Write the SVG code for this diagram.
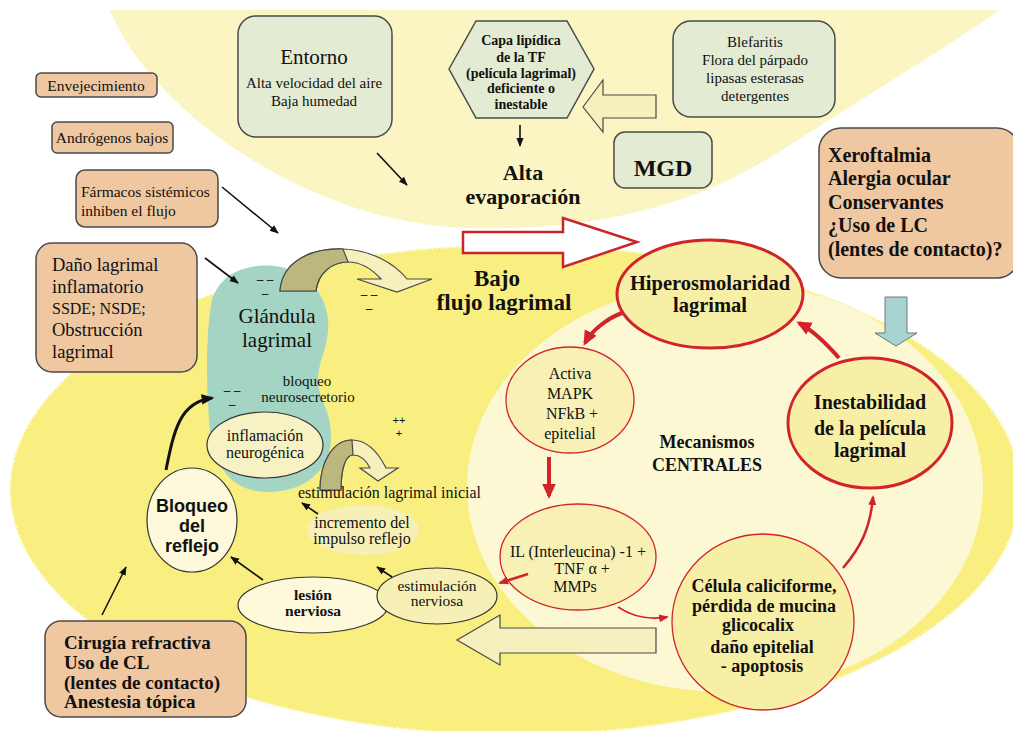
<svg xmlns="http://www.w3.org/2000/svg" width="1013" height="731" viewBox="0 0 1013 731">
<style>
.s{font-family:"Liberation Serif","Times New Roman",serif;fill:#111}
.ss{font-family:"Liberation Sans",Arial,sans-serif;fill:#111}
.b{font-weight:bold}
.m{text-anchor:middle}
.tan{fill:#efc7a0;stroke:#4a4a4a;stroke-width:1.5}
.grn{fill:#e3ecd2;stroke:#4a4a4a;stroke-width:1.5}
.blk{stroke:#111;stroke-width:1.6;fill:none}
.red{stroke:#d2232a;fill:none}
.pale{fill:#f5f0bd;stroke:#4a4a4a;stroke-width:1.2}
</style>
<defs>
<marker id="ab" viewBox="0 0 10 10" refX="9" refY="5" markerWidth="9" markerHeight="9" markerUnits="userSpaceOnUse" orient="auto"><path d="M0,1 L10,5 L0,9 Z" fill="#111"/></marker>
<marker id="ab2" viewBox="0 0 10 10" refX="8" refY="5" markerWidth="13" markerHeight="13" markerUnits="userSpaceOnUse" orient="auto"><path d="M0,1 L10,5 L0,9 Z" fill="#111"/></marker>
<marker id="ar" viewBox="0 0 10 10" refX="8" refY="5" markerWidth="15" markerHeight="15" markerUnits="userSpaceOnUse" orient="auto"><path d="M0,0.5 L10,5 L0,9.5 Z" fill="#d2232a"/></marker>
<marker id="ar2" viewBox="0 0 10 10" refX="8" refY="5" markerWidth="10" markerHeight="10" markerUnits="userSpaceOnUse" orient="auto"><path d="M0,1 L10,5 L0,9 Z" fill="#d2232a"/></marker>
</defs>

<g id="background">
<path d="M110,10 C150,110 310,225 470,228 C600,231 700,205 790,145 C860,100 950,45 1000,10 Z" fill="#faf5c2"/>
<ellipse cx="515" cy="490" rx="505" ry="245" fill="#f9ee80" stroke="#fffbe0" stroke-width="2.5" stroke-dasharray="2 2.5"/>
<ellipse cx="725" cy="487" rx="258" ry="205" fill="#fdf8d4"/>
</g>

<g id="envejecimiento"><rect class="tan" x="36" y="73" width="121" height="24" rx="5"/><text class="s m" x="96" y="91" font-size="15.5">Envejecimiento</text></g>
<g id="androgenos"><rect class="tan" x="52" y="122" width="121" height="31" rx="5"/><text class="s m" x="112" y="143" font-size="15.5">Andrógenos bajos</text></g>
<g id="farmacos"><rect class="tan" x="76" y="170" width="142" height="57" rx="9"/><text class="s" x="81" y="197" font-size="15.5">Fármacos sistémicos</text><text class="s" x="81" y="216" font-size="15.5">inhiben el flujo</text></g>
<g id="dano"><rect class="tan" x="36" y="243" width="161" height="129" rx="16"/>
<text class="s" x="52" y="271" font-size="18.5">Daño lagrimal</text>
<text class="s" x="52" y="293" font-size="18.5">inflamatorio</text>
<text class="s" x="52" y="314" font-size="16">SSDE; NSDE;</text>
<text class="s" x="52" y="336" font-size="18.5">Obstrucción</text>
<text class="s" x="52" y="358" font-size="18.5">lagrimal</text></g>

<g id="entorno"><rect class="grn" x="238" y="16" width="154" height="121" rx="18"/>
<text class="s m" x="314" y="64" font-size="21">Entorno</text>
<text class="s m" x="314" y="88" font-size="15">Alta velocidad del aire</text>
<text class="s m" x="314" y="106" font-size="15">Baja humedad</text></g>

<g id="capa"><polygon class="grn" points="449,69 476,21 567,21 594,69 567,118 476,118"/>
<text class="s b m" x="521" y="45" font-size="14">Capa lipídica</text>
<text class="s b m" x="521" y="62" font-size="14">de la TF</text>
<text class="s b m" x="521" y="78" font-size="14">(película lagrimal)</text>
<text class="s b m" x="521" y="93" font-size="14">deficiente o</text>
<text class="s b m" x="521" y="109" font-size="14">inestable</text></g>

<g id="blefaritis"><rect class="grn" x="673" y="21" width="162" height="96" rx="18"/>
<text class="s m" x="755" y="47" font-size="15">Blefaritis</text>
<text class="s m" x="755" y="65" font-size="15">Flora del párpado</text>
<text class="s m" x="755" y="83" font-size="15">lipasas esterasas</text>
<text class="s m" x="755" y="101" font-size="15">detergentes</text></g>

<g id="mgd"><rect class="grn" x="614" y="132" width="98" height="56" rx="11"/><text class="s b m" x="663" y="176" font-size="24">MGD</text></g>

<g id="alta-evaporacion"><text class="s b m" x="523" y="180" font-size="22">Alta</text><text class="s b m" x="523" y="204" font-size="22">evaporación</text></g>

<g id="xeroftalmia"><rect class="tan" x="819" y="128" width="200" height="150" rx="22"/>
<text class="s b" x="828" y="162" font-size="20">Xeroftalmia</text>
<text class="s b" x="828" y="185" font-size="20">Alergia ocular</text>
<text class="s b" x="828" y="209" font-size="20">Conservantes</text>
<text class="s b" x="828" y="232" font-size="20">¿Uso de LC</text>
<text class="s b" x="828" y="256" font-size="20">(lentes de contacto)?</text></g>

<g id="glandula">
<path d="M258,266 C295,262 325,285 328,320 C330,345 318,360 318,380 C318,400 332,410 331,440 C330,470 305,492 268,492 C230,492 212,465 209,420 C206,380 206,330 212,300 C218,280 235,268 258,266 Z" fill="#a4d4c4"/>
<text class="s m" x="277" y="323" font-size="21">Glándula</text>
<text class="s m" x="277" y="347" font-size="21">lagrimal</text>
</g>

<g id="marks" class="ss" font-size="12">
<text class="m" x="265" y="284">– –</text><text class="m" x="265" y="298">–</text>
<text class="m" x="369" y="299">– –</text><text class="m" x="369" y="313">–</text>
<text class="m" x="232" y="395">– –</text><text class="m" x="232" y="409">–</text>
<text class="m" x="399" y="424" font-size="11">++</text><text class="m" x="399" y="437" font-size="11">+</text>
</g>

<g id="bloqueo-neurosecretorio"><text class="s m" x="307" y="386" font-size="15">bloqueo</text><text class="s m" x="308" y="402" font-size="15">neurosecretorio</text></g>

<g id="inflamacion"><ellipse cx="265" cy="445" rx="58" ry="33" fill="#f7f2c4" stroke="#333" stroke-width="1.2"/>
<text class="s m" x="265" y="441" font-size="16">inflamación</text><text class="s m" x="265" y="458" font-size="16">neurogénica</text></g>

<g id="arco-superior">
<path d="M280,291 C282,262 310,248 343,249 C372,250 395,264 407,279 L432,279 L397,292 L357,279 L381,279 C371,268 360,262 348,262 C332,262 318,273 316,291 Z" class="pale"/>
<path d="M280,291 C282,262 310,248 343,249 L348,262 C332,262 318,273 316,291 Z" fill="#bcb67f" stroke="#4a4a4a" stroke-width="1.2"/>
</g>
<g id="arco-inferior">
<path d="M320,490 C320,462 333,440 352,440 C368,440 379,454 386,468 L398,468 L378,481 L360,468 L370,468 C366,460 360,455 353,455 C345,455 341,470 341,490 Z" class="pale"/>
<path d="M320,490 C320,462 333,440 352,440 L353,455 C345,455 341,470 341,490 Z" fill="#bcb67f" stroke="#4a4a4a" stroke-width="1.2"/>
</g>

<g id="estimulacion-lagrimal"><text class="s" x="298" y="498" font-size="16">estimulación lagrimal inicial</text></g>

<g id="incremento"><ellipse cx="363" cy="530" rx="56" ry="25" fill="#f6f0b6"/>
<text class="s m" x="362" y="528" font-size="16">incremento del</text><text class="s m" x="362" y="544" font-size="16">impulso reflejo</text></g>

<g id="bloqueo-reflejo"><ellipse cx="192" cy="520" rx="45" ry="52" fill="#fdf9da" stroke="#333" stroke-width="1.2"/>
<text class="ss b m" x="192" y="512" font-size="18">Bloqueo</text>
<text class="ss b m" x="192" y="532" font-size="18">del</text>
<text class="ss b m" x="192" y="552" font-size="18">reflejo</text></g>

<g id="lesion"><ellipse cx="313" cy="605" rx="75" ry="28" fill="#fdf9da" stroke="#333" stroke-width="1.2"/>
<text class="s b m" x="313" y="600" font-size="15.5">lesión</text><text class="s b m" x="313" y="616" font-size="15.5">nerviosa</text></g>

<g id="estimulacion-nerviosa"><ellipse cx="437" cy="596" rx="60" ry="28" fill="#f6f0b6" stroke="#333" stroke-width="1.2"/>
<text class="s m" x="437" y="591" font-size="15.5">estimulación</text><text class="s m" x="437" y="606" font-size="15.5">nerviosa</text></g>

<g id="cirugia"><rect class="tan" x="45" y="621" width="201" height="96" rx="16"/>
<text class="s b" x="64" y="649" font-size="19">Cirugía refractiva</text>
<text class="s b" x="64" y="669" font-size="19">Uso de CL</text>
<text class="s b" x="64" y="689" font-size="19">(lentes de contacto)</text>
<text class="s b" x="64" y="708" font-size="19">Anestesia  tópica</text></g>

<g id="bajo-flujo"><text class="s b m" x="497" y="286" font-size="23">Bajo</text><text class="s b m" x="504" y="310" font-size="23">flujo lagrimal</text></g>

<g id="hiperosmolaridad"><ellipse cx="710" cy="294" rx="93" ry="54" fill="#f8efa6" stroke="#d2232a" stroke-width="3"/>
<text class="s b m" x="710" y="290" font-size="20.5">Hiperosmolaridad</text><text class="s b m" x="710" y="312" font-size="20.5">lagrimal</text></g>

<g id="activa"><ellipse cx="570" cy="400" rx="64" ry="53" fill="#f8f0b4" stroke="#d2232a" stroke-width="1.3"/>
<text class="s m" x="570" y="379" font-size="16">Activa</text>
<text class="s m" x="570" y="399" font-size="16">MAPK</text>
<text class="s m" x="572" y="419" font-size="16">NFkB +</text>
<text class="s m" x="570" y="439" font-size="16">epitelial</text></g>

<g id="mecanismos"><text class="s b m" x="707" y="448" font-size="18">Mecanismos</text><text class="s b m" x="707" y="471" font-size="18">CENTRALES</text></g>

<g id="inestabilidad"><ellipse cx="870" cy="423" rx="82" ry="65" fill="#f8efa6" stroke="#d2232a" stroke-width="3"/>
<text class="s b m" x="870" y="409" font-size="20">Inestabilidad</text>
<text class="s b m" x="870" y="435" font-size="20">de la película</text>
<text class="s b m" x="870" y="457" font-size="20">lagrimal</text></g>

<g id="interleucina"><ellipse cx="578" cy="557" rx="78" ry="53" fill="#f8f0b4" stroke="#d2232a" stroke-width="1.3"/>
<text class="s m" x="578" y="557" font-size="16">IL (Interleucina) -1 +</text>
<text class="s m" x="582" y="574" font-size="16">TNF α +</text>
<text class="s m" x="575" y="592" font-size="16">MMPs</text></g>

<g id="celula"><ellipse cx="763" cy="622" rx="91" ry="88" fill="#f8efa6" stroke="#d2232a" stroke-width="1.3"/>
<text class="s b m" x="764" y="592" font-size="18">Célula caliciforme,</text>
<text class="s b m" x="764" y="612" font-size="18">pérdida de mucina</text>
<text class="s b m" x="758" y="631" font-size="18">glicocalix</text>
<text class="s b m" x="762" y="653" font-size="18">daño epitelial</text>
<text class="s b m" x="762" y="672" font-size="18">- apoptosis</text></g>

<g id="connectors">
<polygon points="583,107 603,80 603,95 656,95 656,118 603,118 603,132" class="pale"/>
<polygon points="457,640 500,615 500,628 656,628 656,653 500,653 500,665" class="pale"/>
<polygon points="463,232 563,232 563,218 637,242 563,267 563,253 463,253" fill="#fff" stroke="#c9252b" stroke-width="2.5"/>
<polygon points="885,297 907,297 907,333 917,333 896,346 875,333 885,333" fill="#a9d3d1" stroke="#6a7a7a" stroke-width="1"/>
<path class="blk" d="M520,125 L520,146" marker-end="url(#ab)"/>
<path class="blk" d="M377,153 L407,185" marker-end="url(#ab)"/>
<path class="blk" d="M222,187 L278,233" marker-end="url(#ab)"/>
<path class="blk" d="M205,258 L238,283" marker-end="url(#ab)"/>
<path class="blk" d="M102,615 L126,567" marker-end="url(#ab)"/>
<path class="blk" d="M263,580 L231,557" marker-end="url(#ab)"/>
<path class="blk" d="M392,577 L377,567" marker-end="url(#ab)"/>
<path class="blk" d="M318,514 L302,503" marker-end="url(#ab)"/>
<path d="M166,470 C174,430 180,402 212,398" stroke="#111" stroke-width="3" fill="none" marker-end="url(#ab2)"/>
<path class="red" stroke-width="4" d="M622,313 C608,318 592,330 585,343" marker-end="url(#ar)"/>
<path class="red" stroke-width="4" d="M549,457 L549,496" marker-end="url(#ar)"/>
<path class="red" stroke-width="2.5" d="M528,574 L500,583" marker-end="url(#ar2)"/>
<path class="red" stroke-width="2" d="M618,607 C635,618 650,620 667,617" marker-end="url(#ar2)"/>
<path class="red" stroke-width="2.5" d="M843,568 C860,548 870,530 873,497" marker-end="url(#ar2)"/>
<path class="red" stroke-width="4" d="M839,358 C825,342 812,330 799,323" marker-end="url(#ar)"/>
</g>
</svg>
